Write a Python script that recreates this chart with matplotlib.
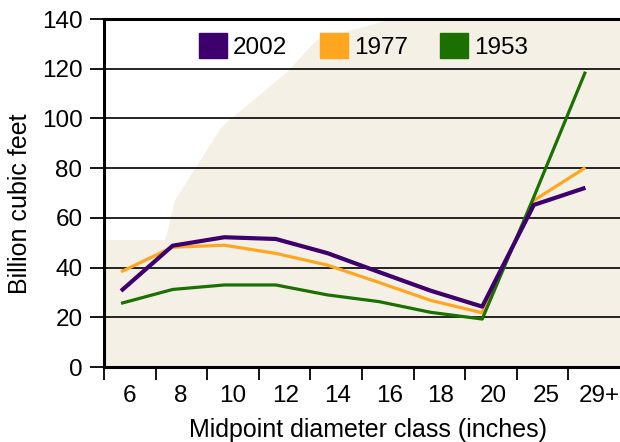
import numpy as np
import matplotlib
matplotlib.use("Agg")
import matplotlib.pyplot as plt
from matplotlib.patches import Patch, Polygon

categories = ["6", "8", "10", "12", "14", "16", "18", "20", "25", "29+"]
y2002 = [30.6, 48.8, 52.2, 51.5, 45.8, 38.2, 30.7, 24.3, 65.2, 72.1]
y1977 = [38.3, 48.2, 49.0, 45.7, 41.0, 34.0, 26.8, 21.8, 67.0, 80.2]
y1953 = [25.6, 31.2, 33.0, 33.0, 29.0, 26.3, 22.0, 19.3, 68.4, 118.8]
yticks = [0, 20, 40, 60, 80, 100, 120, 140]

plt.rcParams['font.family'] = ['Liberation Sans', 'DejaVu Sans']

c2002 = '#3e006d'
c1977 = '#ffa51f'
c1953 = '#1a7000'

fig = plt.figure(figsize=(6.2, 4.42), dpi=100)
ax = fig.add_axes([104/620, 75/442, 516/620, 348/442])

x = np.arange(len(categories))

# faded background decoration (axes coords)
bg = Polygon([(0, 0), (0, 0.365), (0.119, 0.365), (0.138, 0.48), (0.228, 0.69),
              (0.353, 0.845), (0.413, 0.94), (0.56, 1.0), (1, 1), (1, 0)],
             closed=True, transform=ax.transAxes, facecolor='#f4f0e6',
             edgecolor='none', zorder=0)
ax.add_patch(bg)

for yv in yticks[1:-1]:
    ax.axhline(yv, color='black', lw=1.2, zorder=1)

ax.plot(x, y1977, color=c1977, lw=2.3, zorder=3, solid_capstyle='butt')
ax.plot(x, y1953, color=c1953, lw=2.3, zorder=4, solid_capstyle='butt')
ax.plot(x, y2002, color=c2002, lw=3.0, zorder=5, solid_capstyle='butt')

ax.set_xlim(-0.33, 9.67)
ax.set_ylim(0, 140)

# tick marks at category boundaries, labels near category centres
ax.set_xticks(x - 0.33)
ax.set_xticklabels([])
label_pos = x + np.array([0.16, 0.16, 0.17, 0.19, 0.2, 0.2, 0.19, 0.21, 0.24, 0.27])
ax.set_xticks(label_pos, minor=True)
ax.set_xticklabels(categories, minor=True)
ax.tick_params(axis='x', which='major', length=9, width=1.3, direction='out', color='black')
ax.tick_params(axis='x', which='minor', length=0, pad=13, labelsize=17.5)

ax.set_yticks(yticks)
ax.tick_params(axis='y', which='major', length=10, width=1.3, pad=5.5, labelsize=17.5)

for s in ['left', 'bottom', 'top']:
    ax.spines[s].set_linewidth(2.2)
    ax.spines[s].set_color('black')
ax.spines['right'].set_visible(False)

ax.set_xlabel('Midpoint diameter class (inches)', fontsize=18, va='center')
ax.xaxis.set_label_coords(0.512, -0.181)
ax.set_ylabel('Billion cubic feet', fontsize=18, va='center', ha='center')
ax.yaxis.set_label_coords(-0.163, 0.47)

handles = [Patch(facecolor=c2002, edgecolor=c2002, label='2002'),
           Patch(facecolor=c1977, edgecolor=c1977, label='1977'),
           Patch(facecolor=c1953, edgecolor=c1953, label='1953')]
leg = ax.legend(handles=handles, loc='center', bbox_to_anchor=(0.503, 0.922),
                ncol=3, frameon=False, fontsize=17.5, handlelength=1.15,
                handleheight=1.15, handletextpad=0.25, columnspacing=1.35,
                borderaxespad=0)

fig.savefig('out.png', dpi=100)
